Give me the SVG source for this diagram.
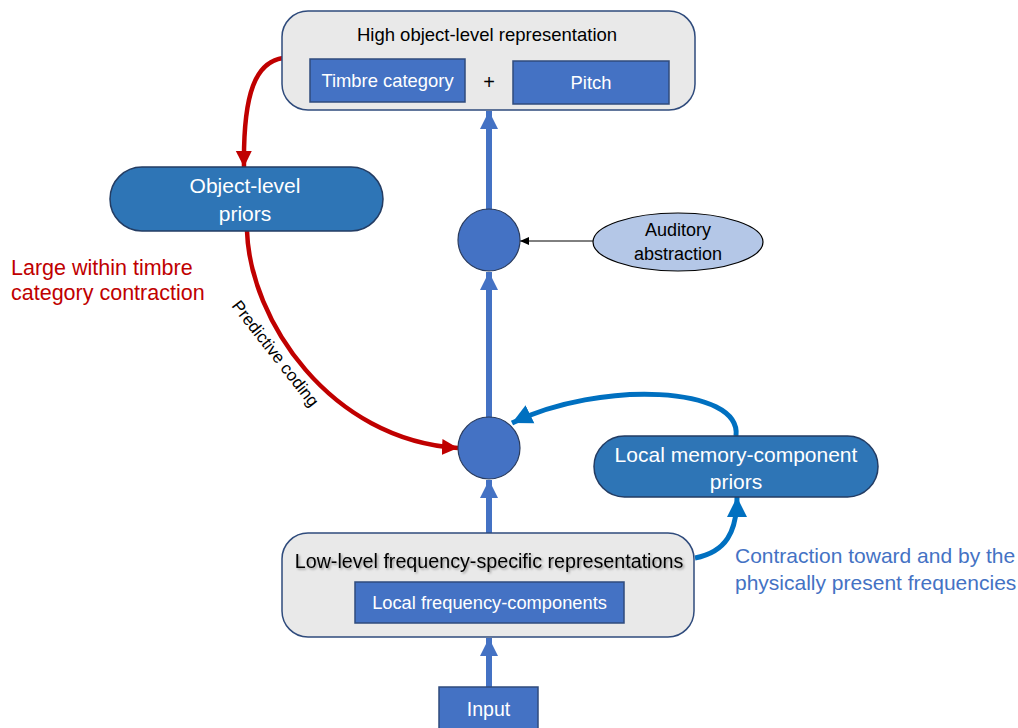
<svg xmlns="http://www.w3.org/2000/svg" width="1018" height="728" viewBox="0 0 1018 728">
<style>
.t{font-family:"Liberation Sans",Arial,sans-serif;}
.box{fill:#e9e9e9;stroke:#2f4b7c;stroke-width:1.5;}
.inner{fill:#4472c4;stroke:#2f4b7c;stroke-width:1.5;}
.pill{fill:#2e75b6;stroke:#233c63;stroke-width:1.5;}
.circ{fill:#4472c4;stroke:#2a3b5c;stroke-width:1.2;}
.w{fill:#ffffff;}
.k{fill:#000000;}
.up{stroke:#4472c4;stroke-width:6;fill:none;}
.red{stroke:#c00000;stroke-width:4.5;fill:none;}
.bl{stroke:#0070c0;stroke-width:5;fill:none;}
</style>
<defs>
<marker id="ah" markerUnits="userSpaceOnUse" markerWidth="20" markerHeight="20" viewBox="0 0 20 20" refX="18" refY="10" orient="auto">
<path d="M0,1 L18,10 L0,19 Z" fill="#4472c4"/>
</marker>
<marker id="ahr" markerUnits="userSpaceOnUse" markerWidth="18" markerHeight="18" viewBox="0 0 18 18" refX="16" refY="9" orient="auto">
<path d="M0,1 L16,9 L0,17 Z" fill="#c00000"/>
</marker>
<marker id="ahb" markerUnits="userSpaceOnUse" markerWidth="22" markerHeight="22" viewBox="0 0 22 22" refX="20" refY="11" orient="auto">
<path d="M0,1 L20,11 L0,21 Z" fill="#0070c0"/>
</marker>
<marker id="ahk" markerUnits="userSpaceOnUse" markerWidth="10" markerHeight="10" viewBox="0 0 10 10" refX="9" refY="5" orient="auto">
<path d="M0,1 L9,5 L0,9 Z" fill="#000"/>
</marker>
<filter id="sh" x="-5%" y="-30%" width="110%" height="160%">
<feDropShadow dx="1.5" dy="1.5" stdDeviation="1" flood-color="#000" flood-opacity="0.35"/>
</filter>
</defs>

<g id="connectors">
<line class="up" x1="489" y1="210" x2="489" y2="111" marker-end="url(#ah)"/>
<line class="up" x1="489" y1="418" x2="489" y2="272" marker-end="url(#ah)"/>
<line class="up" x1="489" y1="534" x2="489" y2="480" marker-end="url(#ah)"/>
<line class="up" x1="489" y1="687" x2="489" y2="638" marker-end="url(#ah)"/>
<line x1="593" y1="241" x2="520" y2="241" stroke="#000" stroke-width="1" marker-end="url(#ahk)"/>
<path class="red" d="M283,58 C256,62 243,92 244,167" marker-end="url(#ahr)"/>
<path class="red" d="M247,231 C250,320 330,440 458,448" marker-end="url(#ahr)"/>
<path class="bl" d="M736,436 C742,386 600,380 512,423" marker-end="url(#ahb)"/>
<path class="bl" d="M695,558 C726,552 737,532 737,497" marker-end="url(#ahb)"/>
<text class="t k" font-size="17" transform="translate(231,306) rotate(52)">Predictive coding</text>
</g>

<g id="high">
<rect class="box" x="282" y="11" width="413" height="99" rx="26"/>
<text class="t k" x="487" y="41" font-size="18.5" text-anchor="middle">High object-level representation</text>
<g id="timbre">
<rect class="inner" x="310" y="59" width="155" height="43"/>
<text class="t w" x="387.5" y="87" font-size="18.4" text-anchor="middle">Timbre category</text>
</g>
<text class="t k" x="489" y="89" font-size="20" text-anchor="middle">+</text>
<g id="pitch">
<rect class="inner" x="513" y="61" width="156" height="43"/>
<text class="t w" x="591" y="89" font-size="18.4" text-anchor="middle">Pitch</text>
</g>
</g>

<g id="objpriors">
<rect class="pill" x="110" y="167" width="273" height="64" rx="32"/>
<text class="t w" x="245" y="193" font-size="21" text-anchor="middle">Object-level</text>
<text class="t w" x="245" y="221" font-size="21" text-anchor="middle">priors</text>
</g>

<g id="redlabel">
<text class="t" fill="#c00000" x="11" y="275" font-size="21.5">Large within timbre</text>
<text class="t" fill="#c00000" x="11" y="300" font-size="21.5">category contraction</text>
</g>

<g id="circle-top"><circle class="circ" cx="489" cy="240" r="31"/></g>
<g id="circle-bottom"><circle class="circ" cx="489" cy="448" r="31"/></g>

<g id="abstraction">
<ellipse cx="678" cy="242" rx="85" ry="29" fill="#b4c7e7" stroke="#000" stroke-width="1.2"/>
<text class="t k" x="678" y="236" font-size="18" text-anchor="middle">Auditory</text>
<text class="t k" x="678" y="260" font-size="18" text-anchor="middle">abstraction</text>
</g>

<g id="localpriors">
<rect class="pill" x="594" y="436" width="284" height="61" rx="30.5"/>
<text class="t w" x="736" y="462" font-size="21" text-anchor="middle">Local memory-component</text>
<text class="t w" x="736" y="489" font-size="21" text-anchor="middle">priors</text>
</g>

<g id="bluelabel">
<text class="t" fill="#4472c4" x="735" y="563" font-size="21">Contraction toward and by the</text>
<text class="t" fill="#4472c4" x="735" y="590" font-size="21">physically present frequencies</text>
</g>

<g id="low">
<rect class="box" x="282" y="533" width="412" height="104" rx="26"/>
<text class="t k" x="489" y="568" font-size="19.7" text-anchor="middle" filter="url(#sh)">Low-level frequency-specific representations</text>
<g id="localfreq">
<rect class="inner" x="355" y="582" width="269" height="41"/>
<text class="t w" x="489.5" y="609" font-size="18.3" text-anchor="middle">Local frequency-components</text>
</g>
</g>

<g id="input">
<rect class="inner" x="439" y="687" width="99" height="45"/>
<text class="t w" x="488.5" y="716" font-size="19.5" text-anchor="middle">Input</text>
</g>
</svg>
